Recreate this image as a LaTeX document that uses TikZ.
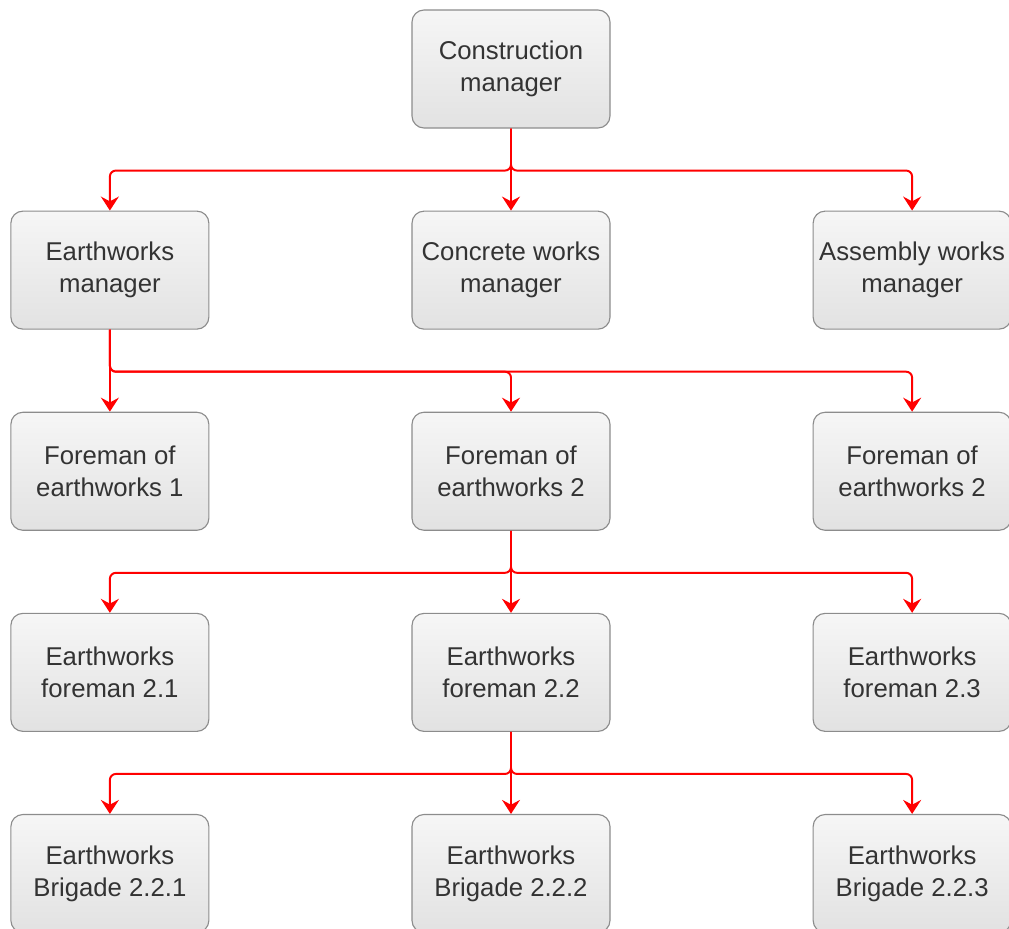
\documentclass[tikz,border=0pt]{standalone}
\usepackage{fontspec}
\setmainfont{Liberation Sans}
\usetikzlibrary{arrows.meta,positioning}
\definecolor{boxline}{HTML}{8C8C8C}
\definecolor{boxtop}{HTML}{F6F6F6}
\definecolor{boxbot}{HTML}{E2E2E2}
\definecolor{linkred}{HTML}{FF0000}
\definecolor{txtgray}{HTML}{333333}

\begin{document}
\begin{tikzpicture}[
  font=\fontsize{18.3}{22.7}\selectfont,
  node distance=2.05cm and 5.05cm,
  box/.style={draw=boxline,line width=0.8pt,rounded corners=0.3cm,top color=boxtop,bottom color=boxbot,text=txtgray,align=center,minimum width=4.95cm,minimum height=2.95cm,inner sep=0pt},
  arr/.style={-{Stealth[length=3.5mm,width=4.5mm,inset=1.2mm]},line width=1.4pt,linkred,rounded corners=0.15cm}
]
\useasboundingbox (0,0) rectangle (25.225,-23.2);
% top
\node[box] (cm) at (12.775,-1.725) {Construction\\manager};
% managers
\node[box,below=of cm] (cw) {Concrete works\\manager};
\node[box,left=of cw]  (em) {Earthworks\\manager};
\node[box,right=of cw] (aw) {Assembly works\\manager};
% foremen
\node[box,below=of em] (f1) {Foreman of\\earthworks 1};
\node[box,below=of cw] (f2) {Foreman of\\earthworks 2};
\node[box,below=of aw] (f3) {Foreman of\\earthworks 2};
% earthworks foremen
\node[box,below=of f1] (ef1) {Earthworks\\foreman 2.1};
\node[box,below=of f2] (ef2) {Earthworks\\foreman 2.2};
\node[box,below=of f3] (ef3) {Earthworks\\foreman 2.3};
% brigades
\node[box,below=of ef1] (b1) {Earthworks\\Brigade 2.2.1};
\node[box,below=of ef2] (b2) {Earthworks\\Brigade 2.2.2};
\node[box,below=of ef3] (b3) {Earthworks\\Brigade 2.2.3};

\draw[arr] (cm.south) -- ++(0,-1.05) -| (em.north);
\draw[arr] (cm.south) -- (cw.north);
\draw[arr] (cm.south) -- ++(0,-1.05) -| (aw.north);

\draw[arr] (em.south) -- (f1.north);
\draw[arr] (em.south) -- ++(0,-1.05) -| (f2.north);
\draw[arr] (em.south) -- ++(0,-1.05) -| (f3.north);

\draw[arr] (f2.south) -- ++(0,-1.05) -| (ef1.north);
\draw[arr] (f2.south) -- (ef2.north);
\draw[arr] (f2.south) -- ++(0,-1.05) -| (ef3.north);

\draw[arr] (ef2.south) -- ++(0,-1.05) -| (b1.north);
\draw[arr] (ef2.south) -- (b2.north);
\draw[arr] (ef2.south) -- ++(0,-1.05) -| (b3.north);
\end{tikzpicture}
\end{document}
